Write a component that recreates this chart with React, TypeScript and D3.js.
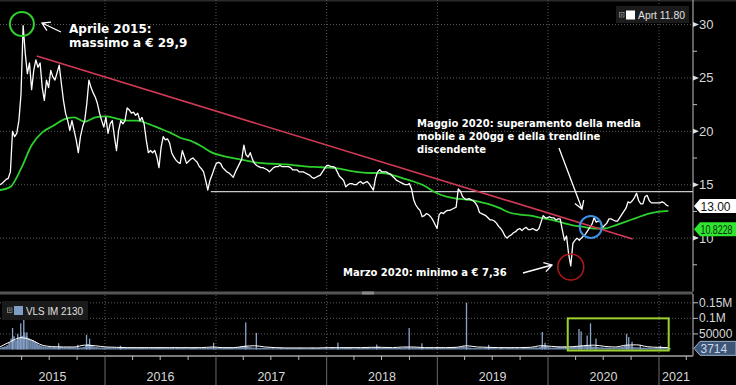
import React from 'react';
import * as d3 from 'd3';

const WIDTH = 736;
const HEIGHT = 385;

// ---------- data ----------
const WEEK0 = '2015-01-19'; // first weekly close

const priceWeekly = [
  15.0, 15.1, 15.3, 15.5, 15.6, 16.2, 20.0, 19.5, 19.8, 21.0,
  23.5, 29.9, 27.3, 25.4, 26.4, 23.9, 25.7, 26.7, 26.0, 26.4,
  24.1, 22.9, 24.8, 24.1, 25.7, 25.1, 24.8, 25.5, 26.2, 24.5,
  22.9, 21.7, 21.0, 20.1, 21.0, 20.1, 19.2, 18.0, 19.5, 20.4,
  21.0, 22.6, 24.8, 24.1, 23.6, 23.2, 22.6, 21.7, 21.0, 20.4,
  21.3, 19.8, 20.7, 21.0, 19.5, 18.2, 20.1, 21.0, 20.7, 21.0,
  22.2, 22.0, 21.7, 21.8, 21.5, 21.7, 21.0, 21.3, 20.7, 19.2,
  18.0, 18.2, 18.0, 18.2, 17.6, 16.6, 18.5, 19.5, 19.2, 19.3,
  18.9, 18.0, 17.6, 17.3, 17.1, 17.0, 18.2, 17.6, 17.0, 17.2,
  17.4, 17.5, 17.3, 17.1, 16.7, 16.5, 16.2, 15.4, 14.5, 15.4,
  15.9, 16.5, 17.0, 17.1, 17.0, 16.6, 16.4, 16.2, 16.1, 15.9,
  15.7, 16.2, 16.6, 17.0, 17.4, 18.7, 17.8, 17.6, 18.0, 17.4,
  17.0, 16.8, 16.7, 16.6, 16.6, 16.5, 16.4, 16.2, 16.4, 16.6,
  16.7, 16.7, 16.8, 16.7, 16.7, 16.7, 16.7, 16.6, 16.4, 16.4,
  16.4, 16.2, 16.2, 16.2, 16.1, 16.0, 15.9, 15.7, 15.6, 15.7,
  15.8, 15.9, 16.2, 16.5, 16.8, 16.8, 16.7, 16.7, 16.6, 16.2,
  15.8, 15.6, 15.4, 14.8, 15.0, 15.1, 15.1, 15.0, 15.0, 15.2,
  15.3, 15.1, 15.2, 15.3, 15.1, 14.8, 14.5, 15.6, 16.2, 16.4,
  16.2, 16.2, 16.2, 16.1, 16.0, 15.8, 15.6, 15.4, 15.3, 15.2,
  15.1, 15.0, 15.0, 15.1, 14.6, 13.6, 13.1, 12.8, 12.6, 12.0,
  12.1, 12.3, 12.2, 12.0, 11.7, 11.3, 10.9, 12.2, 12.4, 12.3,
  12.5, 12.6, 12.6, 12.7, 12.8, 12.9, 14.6, 14.4, 13.9, 13.7,
  13.6, 13.7, 13.6, 13.5, 13.3, 13.0, 12.4, 12.3, 12.2, 12.1,
  11.9, 11.7, 11.7, 11.6, 11.4, 11.1, 10.9, 10.6, 10.2, 10.0,
  10.2, 10.3, 10.5, 10.6, 10.8, 10.9, 10.7, 10.9, 11.0, 10.8,
  10.8, 10.9, 10.8, 10.7, 10.9, 11.5, 12.1, 11.9, 11.9, 12.0,
  11.9, 11.9, 11.7, 11.8, 11.8, 10.8, 9.8, 10.2, 8.5, 7.4,
  9.5, 9.8, 10.0, 9.8, 10.0, 10.2, 10.4, 10.7, 11.0, 11.3,
  11.9, 11.5, 11.6, 11.5, 11.0, 11.2, 11.4, 11.8, 11.8, 11.7,
  11.6, 11.6, 11.9, 12.2, 12.5, 12.8, 13.4, 13.3, 13.5, 13.8,
  14.2, 13.5, 13.2, 13.2, 13.9, 14.0, 13.5, 13.3, 13.3, 13.3,
  13.3, 13.3, 13.4, 13.3, 13.1, 13.0,
];

// 200-day moving average, one reading every 5 weeks
const ma200Every5Weeks = [
  14.5, 14.8, 16.5, 18.7, 19.9, 20.5, 21.1, 21.3, 20.9, 21.3,
  21.4, 21.2, 21.0, 21.0, 20.7, 20.3, 19.9, 19.4, 19.1, 18.6,
  18.0, 17.7, 17.5, 17.3, 17.1, 17.0, 16.95, 16.9, 16.8, 16.7,
  16.65, 16.6, 16.5, 16.3, 16.15, 16.1, 16.1, 15.9, 15.6, 15.3,
  14.9, 14.3, 13.9, 13.7, 13.6, 13.45, 13.2, 12.85, 12.4, 12.2,
  12.1, 11.9, 11.7, 11.45, 11.2, 11.05, 10.9, 10.9, 11.2, 11.55,
  11.9, 12.25, 12.45, 12.55,
];

// weekly traded volume (thousands of shares)
const volumeWeeklyK = [
  6, 8, 10, 14, 22, 35, 42, 30, 36, 40,
  44, 55, 42, 36, 32, 30, 26, 20, 15, 12,
  10, 9, 8, 8, 7, 8, 7, 7, 9, 7,
  7, 6, 7, 6, 6, 7, 6, 6, 7, 8,
  12, 18, 15, 12, 9, 8, 7, 6, 6, 6,
  6, 6, 5, 6, 5, 5, 6, 5, 5, 5,
  5, 5, 5, 6, 5, 5, 5, 5, 5, 6,
  5, 5, 5, 5, 6, 5, 5, 5, 5, 5,
  5, 5, 4, 5, 5, 5, 5, 5, 4, 5,
  5, 5, 5, 4, 5, 5, 5, 5, 5, 6,
  5, 5, 5, 5, 6, 5, 5, 5, 5, 5,
  5, 6, 8, 9, 10, 12, 10, 8, 7, 6,
  6, 5, 5, 5, 5, 5, 5, 4, 5, 4,
  4, 4, 5, 4, 4, 5, 4, 4, 4, 4,
  4, 5, 4, 4, 4, 4, 4, 5, 4, 4,
  5, 4, 4, 5, 4, 4, 5, 4, 4, 5,
  5, 5, 5, 5, 5, 5, 4, 4, 5, 5,
  5, 5, 5, 6, 5, 6, 6, 8, 9, 6,
  5, 5, 5, 5, 5, 5, 5, 5, 5, 5,
  6, 7, 6, 6, 7, 6, 5, 5, 6, 5,
  5, 5, 5, 5, 4, 5, 5, 5, 5, 5,
  5, 6, 6, 7, 7, 6, 7, 9, 10, 8,
  7, 6, 5, 5, 5, 5, 5, 4, 5, 5,
  5, 6, 5, 5, 4, 5, 5, 4, 4, 5,
  5, 5, 4, 5, 4, 4, 5, 5, 5, 5,
  5, 6, 7, 6, 8, 12, 14, 12, 8, 6,
  6, 6, 7, 8, 8, 10, 9, 8, 7, 8,
  8, 8, 9, 10, 12, 13, 15, 12, 10, 9,
  9, 8, 7, 7, 6, 6, 6, 6, 5, 6,
  6, 7, 8, 10, 12, 14, 12, 10, 8, 7,
  7, 6, 6, 6, 5, 6, 6, 5, 5, 6,
  6, 5, 5, 6, 5, 5,
];

// average volume line, one reading every 5 weeks (thousands)
const volumeAvgEvery5WeeksK = [
  8, 25, 38, 30, 14, 9, 8, 8, 14, 12,
  8, 7, 6, 6, 6, 6, 6, 6, 6, 6,
  8, 6, 6, 10, 12, 8, 6, 5, 5, 5,
  5, 6, 6, 6, 6, 7, 7, 6, 8, 8,
  6, 6, 6, 7, 12, 8, 7, 6, 6, 6,
  7, 12, 10, 8, 9, 12, 14, 10, 8, 14,
  15, 9, 7, 6,
];

// single-day volume spikes
const volumeSpikes: [string, number][] = [
  ['2015-02-28', 69000], ['2015-03-17', 50000], ['2015-03-27', 84000],
  ['2015-04-06', 115000], ['2015-04-16', 55000], ['2015-07-30', 20000],
  ['2015-10-01', 15000], ['2015-10-30', 47000], ['2015-11-09', 35000],
  ['2016-02-19', 12000], ['2016-12-22', 22000], ['2017-04-07', 87000],
  ['2017-05-12', 53000], ['2018-02-05', 22000], ['2018-06-13', 16000],
  ['2018-09-28', 69000], ['2018-11-09', 20000], ['2019-04-05', 150000],
  ['2019-06-17', 15000], ['2019-12-11', 56000], ['2019-12-20', 22000],
  ['2020-04-10', 66000], ['2020-04-17', 58000], ['2020-05-07', 45000],
  ['2020-05-18', 84000], ['2020-06-05', 35000], ['2020-09-14', 50000],
  ['2020-09-21', 40000], ['2020-10-02', 25000], ['2020-10-29', 15000],
  ['2021-01-04', 12000],
];

const trendline: [string, number][] = [['2015-05-21', 27.05], ['2020-10-06', 9.92]];
const supportFrom = '2016-12-15';
const supportValue = 14.35;

const years = [2015, 2016, 2017, 2018, 2019, 2020, 2021];
const priceTicks = [10, 15, 20, 25, 30];
const priceMinorTicks = [7.5, 12.5, 17.5, 22.5, 27.5];
const volumeTicks = [50000, 100000, 150000];
const volumeTickLabels = ['50000', '0.1M', '0.15M'];

const lastPrice = 13.0;
const lastPriceText = '13.00';
const maValue = 10.8228;
const maText = '10.8228';
const lastVolume = 3714;
const lastVolumeText = '3714';
const priceLegendText = 'Aprt 11.80';
const volumeLegendText = 'VLS IM 2130';

const circles: { date: string; value: number; r: number; color: string; w: number }[] = [
  { date: '2015-04-02', value: 30.05, r: 12, color: '#2fd02f', w: 2 },
  { date: '2020-05-21', value: 11.04, r: 11, color: '#3d8fe0', w: 2 },
  { date: '2020-03-16', value: 7.29, r: 13, color: '#b01818', w: 1.5 },
];
const volumeBox = { from: '2020-03-06', to: '2021-02-02', low: 0, high: 100000 };

const annoApril = ['Aprile 2015:', 'massimo a € 29,9'];
const annoMay = ['Maggio 2020: superamento della media', 'mobile a 200gg e della trendline', 'discendente'];
const annoMarch = 'Marzo 2020: minimo a € 7,36';

// ---------- helpers ----------
function arrow(x1: number, y1: number, x2: number, y2: number, size = 8, spread = 0.55) {
  const a = Math.atan2(y2 - y1, x2 - x1);
  const w1x = x2 - size * Math.cos(a - spread);
  const w1y = y2 - size * Math.sin(a - spread);
  const w2x = x2 - size * Math.cos(a + spread);
  const w2y = y2 - size * Math.sin(a + spread);
  return `M${x1},${y1}L${x2},${y2}M${w1x},${w1y}L${x2},${y2}L${w2x},${w2y}`;
}

const NARROW = "'Liberation Sans', Arial, sans-serif";
const BOLD = "'DejaVu Sans', Verdana, sans-serif";

export default function App() {
  const parse = d3.timeParse('%Y-%m-%d');
  const week0 = parse(WEEK0) as Date;

  const PR = 693; // plot right
  const MAIN_B = 291.5;
  const VOL_T = 295;
  const VOL_AXIS = 356;

  const x = d3.scaleTime().domain([new Date(2016, 0, 1), new Date(2021, 0, 1)]).range([105, 659]);
  const y = d3.scaleLinear().domain([5, 32.3]).range([MAIN_B, 0]);
  const yv = d3.scaleLinear().domain([0, 175000]).range([349.5, VOL_T]);

  const priceData = priceWeekly.map((v, i) => ({ d: d3.timeDay.offset(week0, i * 7), v }));
  const maData = ma200Every5Weeks.map((v, i) => ({ d: d3.timeDay.offset(week0, i * 35), v }));
  const volData = volumeWeeklyK.map((v, i) => ({ d: d3.timeDay.offset(week0, i * 7), v: v * 1000 }));
  const volAvgData = volumeAvgEvery5WeeksK.map((v, i) => ({ d: d3.timeDay.offset(week0, i * 35), v: v * 1000 }));

  const priceLine = d3.line<{ d: Date; v: number }>().x((p) => x(p.d)).y((p) => y(p.v))(priceData) || '';
  const maLine = d3
    .line<{ d: Date; v: number }>()
    .curve(d3.curveMonotoneX)
    .x((p) => x(p.d))
    .y((p) => y(p.v))(maData) || '';
  const volAvgLine = d3
    .line<{ d: Date; v: number }>()
    .curve(d3.curveMonotoneX)
    .x((p) => x(p.d))
    .y((p) => yv(p.v))(volAvgData) || '';
  const trend = d3.line<[string, number]>().x((p) => x(parse(p[0]) as Date)).y((p) => y(p[1]))(trendline) || '';

  const barW = x(d3.timeDay.offset(week0, 7)) - x(week0);

  const yearStarts = years.slice(1).map((yr) => x(new Date(yr, 0, 1)));
  const quarterTicks: number[] = [];
  years.forEach((yr) => {
    [3, 6, 9].forEach((m) => {
      const px = x(new Date(yr, m, 1));
      if (px > 0 && px < PR) quarterTicks.push(px);
    });
  });

  const gridColor = '#5a5a5a';
  const tickColor = '#d8d8d8';

  const tag = (cy: number, text: string, fill: string, color: string, stroke = 'none', fit = 0) => (
    <g>
      <polygon
        points={`${PR + 1},${cy} ${PR + 7},${cy - 7} ${WIDTH},${cy - 7} ${WIDTH},${cy + 7} ${PR + 7},${cy + 7}`}
        fill={fill}
        stroke={stroke}
        strokeWidth={1}
      />
      <text
        x={PR + 7.5}
        y={cy + 4.5}
        fill={color}
        fontSize={12}
        fontFamily={NARROW}
        {...(fit ? { textLength: fit, lengthAdjust: 'spacingAndGlyphs' } : {})}
      >
        {text}
      </text>
    </g>
  );

  const sx = x(parse(supportFrom) as Date);
  const sy = y(supportValue);

  return (
    <svg
      width={WIDTH}
      height={HEIGHT}
      viewBox={`0 0 ${WIDTH} ${HEIGHT}`}
      style={{ position: 'absolute', left: 0, top: 0, display: 'block', background: '#000' }}
    >
      <defs>
        <clipPath id="mainClip">
          <rect x={0} y={0} width={PR} height={MAIN_B} />
        </clipPath>
        <clipPath id="volClip">
          <rect x={0} y={VOL_T} width={PR} height={VOL_AXIS - VOL_T} />
        </clipPath>
      </defs>
      <rect x={0} y={0} width={WIDTH} height={HEIGHT} fill="#000" />
      <rect x={0} y={0} width={WIDTH} height={1.5} fill="#2a2a2a" />

      {/* main grid */}
      {priceTicks.map((t) => (
        <line key={'g' + t} x1={0} x2={PR} y1={y(t)} y2={y(t)} stroke={gridColor} strokeDasharray="1,2" />
      ))}
      {yearStarts.map((px, i) => (
        <line key={'vy' + i} x1={px} x2={px} y1={0} y2={MAIN_B} stroke={gridColor} strokeDasharray="1,2" />
      ))}

      {/* main series */}
      <g clipPath="url(#mainClip)">
        <line x1={sx} x2={PR} y1={sy} y2={sy} stroke="#c8c8c8" strokeWidth={1.2} />
        <path d={maLine} fill="none" stroke="#2ccf2c" strokeWidth={1.8} />
        <path d={priceLine} fill="none" stroke="#ffffff" strokeWidth={1.3} strokeLinejoin="round" />
        <path d={trend} fill="none" stroke="#d23a55" strokeWidth={1.6} />
      </g>

      {/* circles */}
      {circles.map((c, i) => (
        <circle
          key={'c' + i}
          cx={x(parse(c.date) as Date)}
          cy={y(c.value)}
          r={c.r}
          fill="none"
          stroke={c.color}
          strokeWidth={c.w}
        />
      ))}

      {/* annotations */}
      <g fill="#ffffff" fontFamily={BOLD} fontWeight="bold">
        <text x={69} y={33} fontSize={12}>{annoApril[0]}</text>
        <text x={69} y={47} fontSize={12}>{annoApril[1]}</text>
        {annoMay.map((t, i) => (
          <text key={'m' + i} x={417} y={127 + i * 13} fontSize={10}>
            {t}
          </text>
        ))}
        <text x={343} y={276} fontSize={10}>{annoMarch}</text>
      </g>
      <g stroke="#ffffff" strokeWidth={1.3} fill="none">
        <path d={arrow(61, 32, 42, 23, 9)} />
        <path d={arrow(559, 148, 582, 209, 9)} />
        <path d={arrow(523, 273, 552, 265, 9)} />
      </g>

      {/* main legend */}
      <rect x={616} y={6} width={73} height={17} fill="#1b1b1b" />
      <rect x={619.5} y={12.5} width={4.5} height={4.5} fill="none" stroke="#8a8a8a" strokeWidth={0.8} />
      <path d="M620.5,14.75h2.5M621.75,13.5v2.5" stroke="#8a8a8a" strokeWidth={0.7} />
      <rect x={626} y={10.5} width={9} height={9} fill="#ffffff" />
      <text x={638} y={19} fill="#e0e0e0" fontSize={11.5} fontFamily={NARROW} textLength={47} lengthAdjust="spacingAndGlyphs">
        {priceLegendText}
      </text>

      {/* right price axis */}
      <line x1={PR} x2={PR} y1={0} y2={MAIN_B} stroke="#c0c0c0" strokeWidth={1} />
      {priceTicks.map((t) => (
        <g key={'pt' + t}>
          <polygon points={`${PR},${y(t) - 2.5} ${PR + 6},${y(t)} ${PR},${y(t) + 2.5}`} fill="#e0e0e0" />
          <text x={PR + 6} y={y(t) + 4.5} fill={tickColor} fontSize={13} fontFamily={NARROW}>
            {t}
          </text>
        </g>
      ))}
      {priceMinorTicks.map((t) => (
        <line key={'pm' + t} x1={PR} x2={PR + 4} y1={y(t)} y2={y(t)} stroke="#c0c0c0" />
      ))}
      {tag(y(lastPrice), lastPriceText, '#ffffff', '#111111')}
      {tag(y(maValue), maText, '#2ee62e', '#0b2a0b', 'none', 32)}

      {/* panel separator */}
      <rect x={0} y={MAIN_B} width={PR} height={3} fill="#555555" />
      <rect x={362} y={MAIN_B} width={12} height={3} fill="#8a8a8a" />

      {/* volume panel grid */}
      {volumeTicks.map((t) => (
        <line key={'vg' + t} x1={0} x2={PR} y1={yv(t)} y2={yv(t)} stroke={gridColor} strokeDasharray="1,2" />
      ))}
      {yearStarts.map((px, i) => (
        <line key={'vyv' + i} x1={px} x2={px} y1={VOL_T} y2={VOL_AXIS} stroke={gridColor} strokeDasharray="1,2" />
      ))}

      {/* volume bars */}
      <g clipPath="url(#volClip)">
        {volData.map((p, i) => (
          <rect
            key={'vb' + i}
            x={x(p.d)}
            y={yv(p.v)}
            width={barW + 0.2}
            height={yv(0) - yv(p.v)}
            fill="#6f88aa"
          />
        ))}
        {volumeSpikes.map(([d, v], i) => {
          const px = x(parse(d) as Date);
          return <rect key={'vs' + i} x={px} y={yv(v)} width={1.3} height={yv(0) - yv(v)} fill="#8aa4c8" />;
        })}
        <path d={volAvgLine} fill="none" stroke="#ffffff" strokeWidth={1} />
      </g>

      {/* highlight box */}
      <rect
        x={x(parse(volumeBox.from) as Date)}
        y={yv(volumeBox.high)}
        width={x(parse(volumeBox.to) as Date) - x(parse(volumeBox.from) as Date)}
        height={yv(volumeBox.low) - yv(volumeBox.high) + 1}
        fill="none"
        stroke="#9bd12e"
        strokeWidth={2}
      />

      {/* volume legend */}
      <rect x={2} y={301} width={86} height={19} fill="#1a1a1a" />
      <rect x={7.5} y={308} width={4.5} height={4.5} fill="none" stroke="#8a8a8a" strokeWidth={0.8} />
      <path d="M8.5,310.25h2.5M9.75,309v2.5" stroke="#8a8a8a" strokeWidth={0.7} />
      <rect x={14} y={306} width={9} height={9} fill="#7f9cc2" />
      <text x={26} y={315} fill="#e0e0e0" fontSize={11.5} fontFamily={NARROW} textLength={57} lengthAdjust="spacingAndGlyphs">
        {volumeLegendText}
      </text>

      {/* volume axis */}
      <line x1={PR} x2={PR} y1={VOL_T - 1} y2={VOL_AXIS} stroke="#c0c0c0" />
      {volumeTicks.map((t, i) => (
        <g key={'vt' + t}>
          <line x1={PR} x2={PR + 5} y1={yv(t)} y2={yv(t)} stroke="#c0c0c0" />
          <text x={PR + 6} y={yv(t) + 4} fill={tickColor} fontSize={12} fontFamily={NARROW}>
            {volumeTickLabels[i]}
          </text>
        </g>
      ))}
      {tag(yv(lastVolume), lastVolumeText, '#3e5676', '#c9d8ee', '#9fb3cf')}

      {/* x axis */}
      <line x1={0} x2={PR} y1={VOL_AXIS} y2={VOL_AXIS} stroke="#7a7a7a" strokeWidth={2} />
      {quarterTicks.map((px, i) => (
        <line key={'qt' + i} x1={px} x2={px} y1={VOL_AXIS} y2={VOL_AXIS + 4} stroke="#bbbbbb" />
      ))}
      {yearStarts.map((px, i) => (
        <line key={'ys' + i} x1={px} x2={px} y1={VOL_AXIS} y2={HEIGHT} stroke="#6a6a6a" />
      ))}
      {years.map((yr) => {
        const a = Math.max(0, x(new Date(yr, 0, 1)));
        const b = Math.min(PR, x(new Date(yr + 1, 0, 1)));
        return (
          <text
            key={'yl' + yr}
            x={(a + b) / 2}
            y={381}
            textAnchor="middle"
            fill={tickColor}
            fontSize={12.5}
            fontFamily={NARROW}
          >
            {yr}
          </text>
        );
      })}
    </svg>
  );
}
